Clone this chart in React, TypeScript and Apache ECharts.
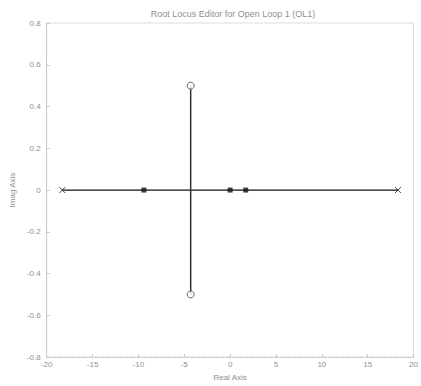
import React, { useEffect, useRef } from "react";
import * as echarts from "echarts";

const titleText = "Root Locus Editor for Open Loop 1 (OL1)";
const xTicks = [-20, -15, -10, -5, 0, 5, 10, 15, 20];
const yTicks = [-0.8, -0.6, -0.4, -0.2, 0, 0.2, 0.4, 0.6, 0.8];
// open-loop poles (x markers)
const poles: [number, number][] = [[-18.3, 0], [18.3, 0]];
// open-loop zeros (o markers)
const zeros: [number, number][] = [[-4.3, 0.5], [-4.3, -0.5]];
// closed-loop poles (filled squares)
const closedLoopPoles: [number, number][] = [[-9.4, 0], [0, 0], [1.7, 0]];
// locus branches
const realBranch: [number, number][] = [[-18.3, 0], [18.3, 0]];
const complexBranch: [number, number][] = [[-4.3, 0.5], [-4.3, -0.5]];

const crossPath = "path://M0,0L10,10M10,0L0,10";

export default function App() {
  const ref = useRef<HTMLDivElement>(null);
  useEffect(() => {
    if (!ref.current) return;
    const chart = echarts.init(ref.current, null, { renderer: "svg" });
    const axisColor = "#c8c8c8";
    const textColor = "#8f8f8f";
    chart.setOption({
      animation: false,
      backgroundColor: "#ffffff",
      title: {
        text: titleText,
        left: 228,
        top: 4,
        textAlign: "center",
        textStyle: { fontSize: 9, fontWeight: "normal", color: textColor, fontFamily: "Liberation Sans" },
      },
      grid: {
        left: 43,
        right: 1,
        top: 23,
        bottom: 28,
        show: true,
        borderColor: "#dddddd",
        borderWidth: 1,
        backgroundColor: "transparent",
      },
      xAxis: {
        type: "value",
        min: -20,
        max: 20,
        interval: 5,
        name: "Real Axis",
        nameLocation: "middle",
        nameGap: 15,
        nameTextStyle: { fontSize: 8, color: textColor, fontFamily: "Liberation Sans" },
        axisLine: { show: true, onZero: false, lineStyle: { color: axisColor, type: "dashed" } },
        axisTick: { show: true, inside: true, length: 3, lineStyle: { color: axisColor } },
        axisLabel: {
          fontSize: 8,
          color: textColor,
          margin: 3,
          fontFamily: "Liberation Sans",
          showMaxLabel: true,
          formatter: (v: number) => (xTicks.includes(v) ? String(v) : ""),
        },
        splitLine: { show: false },
      },
      yAxis: {
        type: "value",
        min: -0.8,
        max: 0.8,
        interval: 0.2,
        name: "Imag Axis",
        nameLocation: "middle",
        nameGap: 30,
        nameTextStyle: { fontSize: 8, color: textColor, fontFamily: "Liberation Sans" },
        axisLine: { show: true, onZero: false, lineStyle: { color: axisColor, type: "dotted" } },
        axisTick: { show: true, inside: true, length: 3, lineStyle: { color: axisColor } },
        axisLabel: {
          fontSize: 8,
          color: textColor,
          margin: 6,
          fontFamily: "Liberation Sans",
          formatter: (v: number) => {
            const r = Math.round(v * 10) / 10;
            return yTicks.some((t) => Math.abs(t - r) < 1e-9) ? String(r) : "";
          },
        },
        splitLine: { show: false },
      },
      series: [
        {
          type: "line",
          data: realBranch,
          symbol: "none",
          lineStyle: { color: "#111", width: 1.2 },
          z: 2,
        },
        {
          type: "line",
          data: complexBranch,
          symbol: "none",
          lineStyle: { color: "#333", width: 1.5 },
          z: 2,
        },
        {
          type: "scatter",
          data: poles,
          symbol: crossPath,
          symbolSize: 6,
          itemStyle: { color: "none", borderColor: "#222", borderWidth: 1 },
          z: 3,
        },
        {
          type: "scatter",
          data: zeros,
          symbol: "circle",
          symbolSize: 7,
          itemStyle: { color: "#fff", borderColor: "#444", borderWidth: 1 },
          z: 3,
        },
        {
          type: "scatter",
          data: closedLoopPoles,
          symbol: "rect",
          symbolSize: 5,
          itemStyle: { color: "#111" },
          z: 4,
        },
      ],
    });
    return () => chart.dispose();
  }, []);
  return <div ref={ref} style={{ width: 421, height: 386, position: "absolute", left: 0, top: 0 }} />;
}
